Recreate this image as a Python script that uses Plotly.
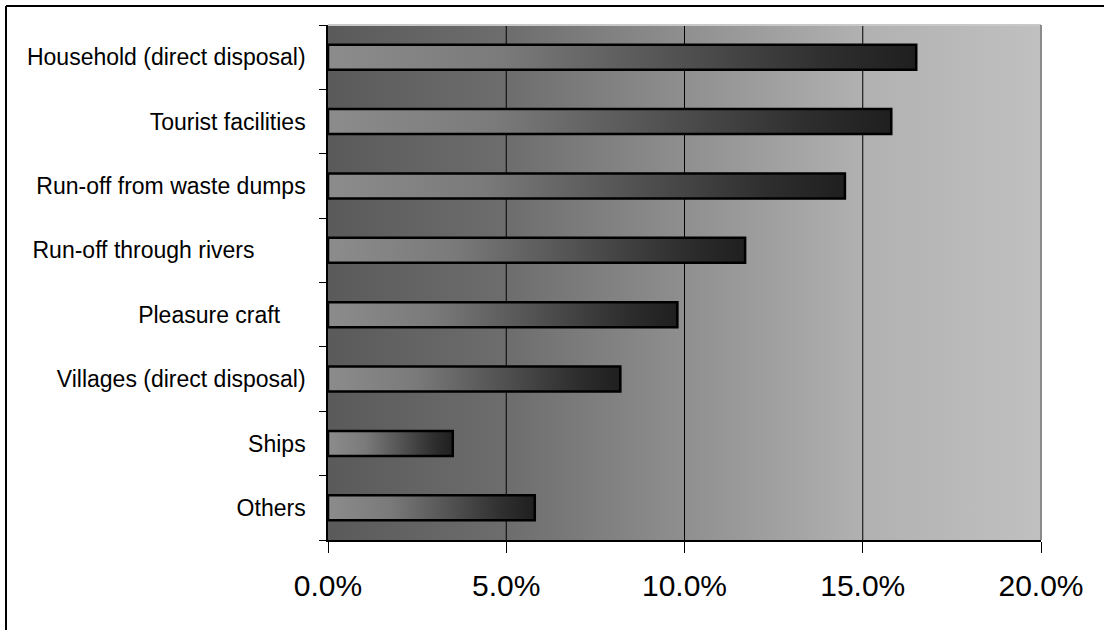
import plotly.graph_objects as go

# Sources of marine litter and their share of the total
sources = [
    "Household (direct disposal)",
    "Tourist facilities",
    "Run-off from waste dumps",
    "Run-off through rivers" + "\u00a0" * 8,
    "Pleasure craft" + "\u00a0" * 4,
    "Villages (direct disposal)",
    "Ships",
    "Others",
]
shares = [0.165, 0.158, 0.145, 0.117, 0.098, 0.082, 0.035, 0.058]
x_ticks = [0.0, 0.05, 0.10, 0.15, 0.20]

W, H = 1104, 630
M = dict(l=328, r=63, t=25, b=90)
FONT = "Liberation Sans, Arial, sans-serif"

n = len(sources)
y_lo, y_hi = -0.5, n - 0.5
half = 0.195  # half of the bar thickness, in category units

bg_scale = [[0.0, "#5a5a5a"], [0.25, "#6d6d6d"], [0.5, "#8f8f8f"],
            [0.75, "#b1b1b1"], [1.0, "#c0c0c0"]]
bar_scale = [[0.0, "#8c8c8c"], [0.3, "#7a7a7a"], [0.65, "#4a4a4a"],
             [0.85, "#2e2e2e"], [1.0, "#1f1f1f"]]

fig = go.Figure()

# plot-area background with a horizontal dark-to-light gradient
fig.add_trace(go.Scatter(
    x=[x_ticks[0], x_ticks[-1], x_ticks[-1], x_ticks[0], x_ticks[0]],
    y=[y_lo, y_lo, y_hi, y_hi, y_lo],
    mode="lines", fill="toself", line=dict(width=0),
    fillgradient=dict(type="horizontal", colorscale=bg_scale),
    hoverinfo="skip", showlegend=False,
))

# vertical gridlines at the inner tick values
gx, gy = [], []
for t in x_ticks[1:-1]:
    gx += [t, t, None]
    gy += [y_lo, y_hi, None]
fig.add_trace(go.Scatter(
    x=gx, y=gy, mode="lines", line=dict(color="black", width=1),
    hoverinfo="skip", showlegend=False,
))

# bars, each with its own light-to-dark gradient
for i, v in enumerate(shares):
    fig.add_trace(go.Scatter(
        x=[0, v, v, 0, 0],
        y=[i - half, i - half, i + half, i + half, i - half],
        mode="lines", fill="toself",
        line=dict(color="black", width=2.5),
        fillgradient=dict(type="horizontal", colorscale=bar_scale),
        hoverinfo="skip", showlegend=False,
    ))

# outer frame (top and left edges) and plot-area border (top and right)
fx0 = (6 - M["l"]) / (W - M["l"] - M["r"])
fy1 = 1 + (M["t"] - 6) / (H - M["t"] - M["b"])
shapes = [
    dict(type="line", xref="paper", yref="paper", x0=fx0, x1=1.2, y0=fy1, y1=fy1,
         line=dict(color="black", width=2)),
    dict(type="line", xref="paper", yref="paper", x0=fx0, x1=fx0, y0=-0.3, y1=fy1,
         line=dict(color="black", width=2)),
    dict(type="line", xref="paper", yref="paper", x0=0, x1=1, y0=1, y1=1,
         line=dict(color="#c8c8c8", width=2)),
    dict(type="line", xref="paper", yref="paper", x0=1, x1=1, y0=0, y1=1,
         line=dict(color="#8a8a8a", width=2)),
]

fig.update_layout(
    template="none",
    width=W, height=H,
    margin=dict(**M, pad=0),
    paper_bgcolor="white", plot_bgcolor="white",
    font=dict(family=FONT, color="black"),
    showlegend=False,
    shapes=shapes,
    xaxis=dict(
        range=[x_ticks[0], x_ticks[-1]], tickvals=x_ticks, tickformat=".1%",
        showgrid=False, zeroline=False,
        showline=True, linecolor="black", linewidth=1.5,
        ticks="outside", ticklen=11, tickwidth=1, tickcolor="black",
        tickfont=dict(size=30, family=FONT), ticklabelstandoff=7,
        layer="above traces", automargin=False,
    ),
    yaxis=dict(
        range=[y_hi, y_lo], tickvals=list(range(n)), ticktext=sources,
        showgrid=False, zeroline=False,
        showline=True, linecolor="black", linewidth=1.5,
        ticks="",
        minor=dict(tickmode="array", tickvals=[k - 0.5 for k in range(n + 1)],
                   ticks="outside", ticklen=7, tickwidth=1, tickcolor="black",
                   showgrid=False),
        tickfont=dict(size=23, family=FONT), ticklabelstandoff=16,
        layer="above traces", automargin=False,
    ),
)

fig.write_html("out.html")
